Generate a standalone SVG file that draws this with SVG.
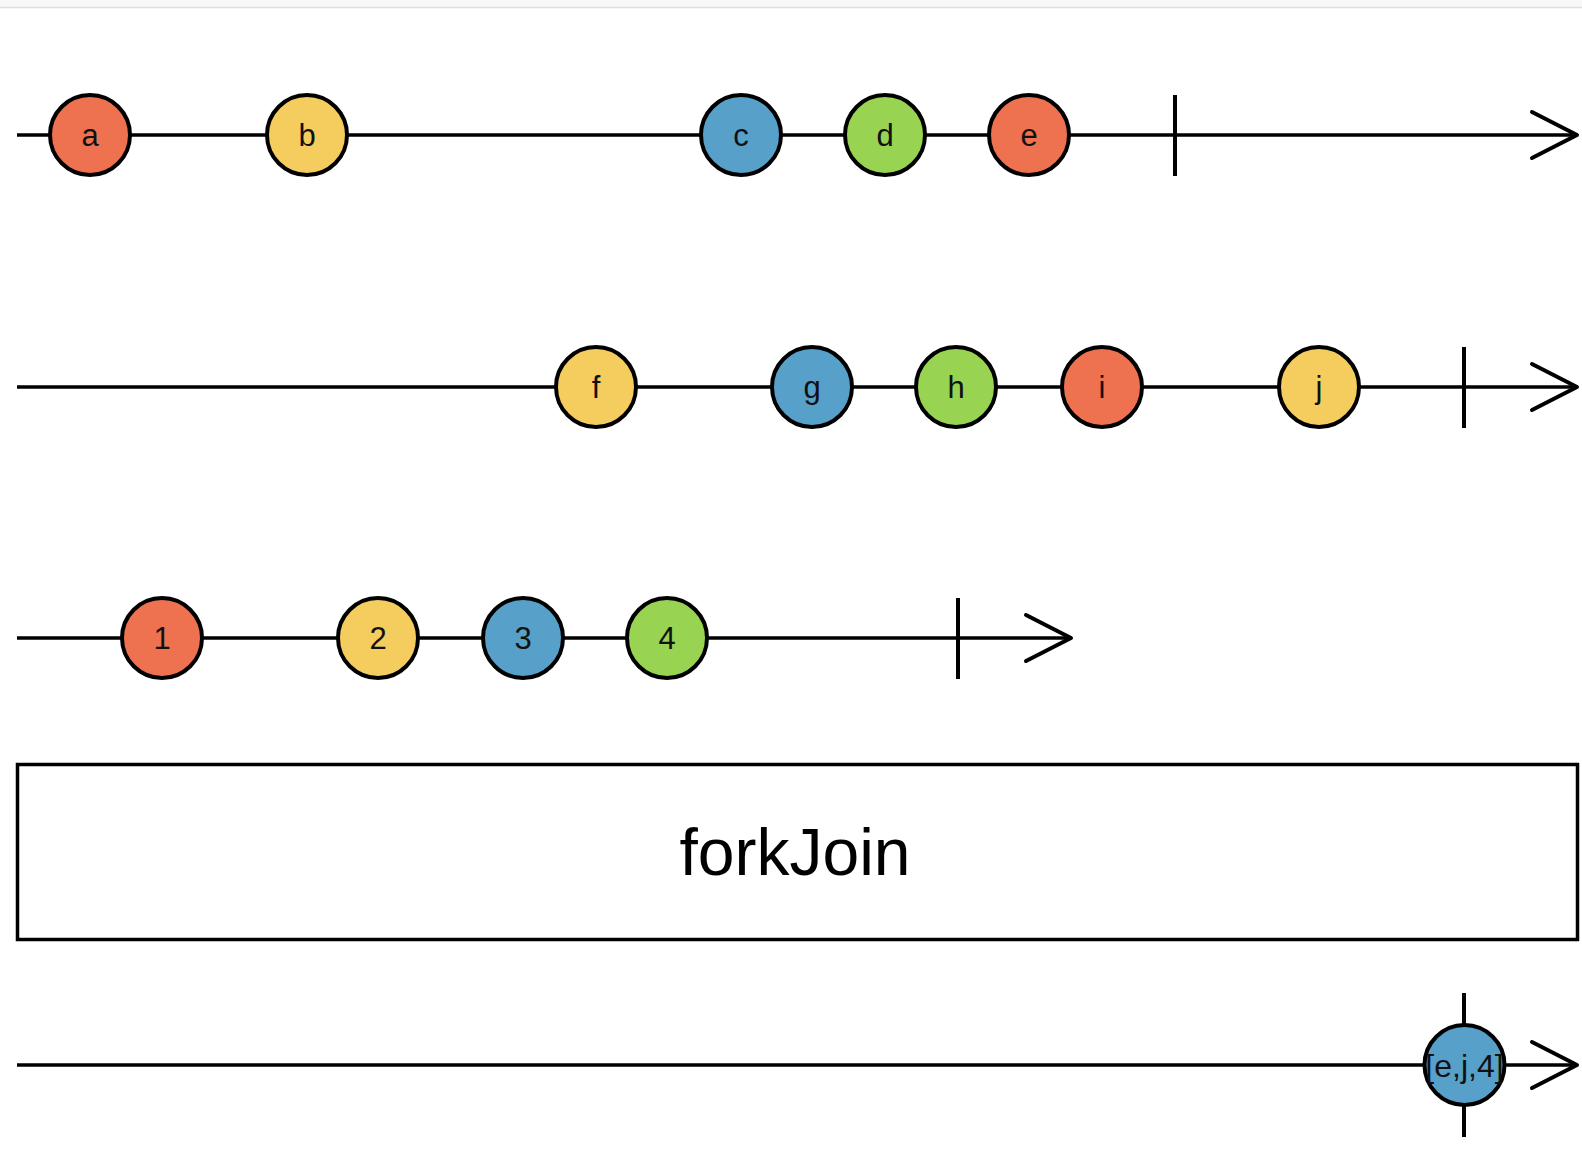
<svg xmlns="http://www.w3.org/2000/svg" width="1582" height="1176" viewBox="0 0 1582 1176">
<style>
.ln{stroke:#000;stroke-width:3.5;fill:none;stroke-linecap:butt}
.ar{stroke:#000;stroke-width:4;fill:none;stroke-linecap:round;stroke-linejoin:round}
.tk{stroke:#000;stroke-width:4;fill:none}
.c{stroke:#000;stroke-width:4}
.r{fill:#EE7150}.y{fill:#F5CD5F}.b{fill:#56A0C9}.g{fill:#98D452}
.t{font-family:"Liberation Sans",Arial,sans-serif;font-size:31px;fill:#111;text-anchor:middle}
</style>
<rect x="0" y="0" width="1582" height="7" fill="#f8f8f8"/>
<line x1="0" y1="7.5" x2="1582" y2="7.5" stroke="#e0e0e0" stroke-width="1.5"/>
<g id="connectors">
<line class="ln" x1="17" y1="135" x2="1576" y2="135"/>
<polyline class="ar" points="1532,112 1577,135 1532,158"/>
<line class="tk" x1="1175" y1="95" x2="1175" y2="176"/>
<line class="ln" x1="17" y1="387" x2="1576" y2="387"/>
<polyline class="ar" points="1532,364 1577,387 1532,410"/>
<line class="tk" x1="1464" y1="347" x2="1464" y2="428"/>
<line class="ln" x1="17" y1="638" x2="1070" y2="638"/>
<polyline class="ar" points="1026,615 1071,638 1026,661"/>
<line class="tk" x1="958" y1="598" x2="958" y2="679"/>
<line class="ln" x1="17" y1="1065" x2="1576" y2="1065"/>
<polyline class="ar" points="1532,1042 1577,1065 1532,1088"/>
<line class="tk" x1="1464" y1="993" x2="1464" y2="1137" stroke-width="5"/>
</g>
<g id="node-a"><circle class="c r" cx="90" cy="135" r="40"/><text class="t" x="90" y="146">a</text></g>
<g id="node-b"><circle class="c y" cx="307" cy="135" r="40"/><text class="t" x="307" y="146">b</text></g>
<g id="node-c"><circle class="c b" cx="741" cy="135" r="40"/><text class="t" x="741" y="146">c</text></g>
<g id="node-d"><circle class="c g" cx="885" cy="135" r="40"/><text class="t" x="885" y="146">d</text></g>
<g id="node-e"><circle class="c r" cx="1029" cy="135" r="40"/><text class="t" x="1029" y="146">e</text></g>
<g id="node-f"><circle class="c y" cx="596" cy="387" r="40"/><text class="t" x="596" y="398">f</text></g>
<g id="node-g"><circle class="c b" cx="812" cy="387" r="40"/><text class="t" x="812" y="398">g</text></g>
<g id="node-h"><circle class="c g" cx="956" cy="387" r="40"/><text class="t" x="956" y="398">h</text></g>
<g id="node-i"><circle class="c r" cx="1102" cy="387" r="40"/><text class="t" x="1102" y="398">i</text></g>
<g id="node-j"><circle class="c y" cx="1319" cy="387" r="40"/><text class="t" x="1319" y="398">j</text></g>
<g id="node-1"><circle class="c r" cx="162" cy="638" r="40"/><text class="t" x="162" y="649">1</text></g>
<g id="node-2"><circle class="c y" cx="378" cy="638" r="40"/><text class="t" x="378" y="649">2</text></g>
<g id="node-3"><circle class="c b" cx="523" cy="638" r="40"/><text class="t" x="523" y="649">3</text></g>
<g id="node-4"><circle class="c g" cx="667" cy="638" r="40"/><text class="t" x="667" y="649">4</text></g>
<g id="operator"><rect x="17.5" y="764.5" width="1560" height="175" fill="#fff" stroke="#000" stroke-width="3.5"/><text x="795" y="875" font-family="'Liberation Sans',Arial,sans-serif" font-size="66" text-anchor="middle" fill="#000">forkJoin</text></g>
<g id="node-result"><circle class="c b" cx="1464.5" cy="1065" r="40"/><text x="1464.5" y="1077" font-family="'Liberation Sans',Arial,sans-serif" font-size="32" text-anchor="middle" fill="#111">[e,j,4]</text></g>
</svg>
